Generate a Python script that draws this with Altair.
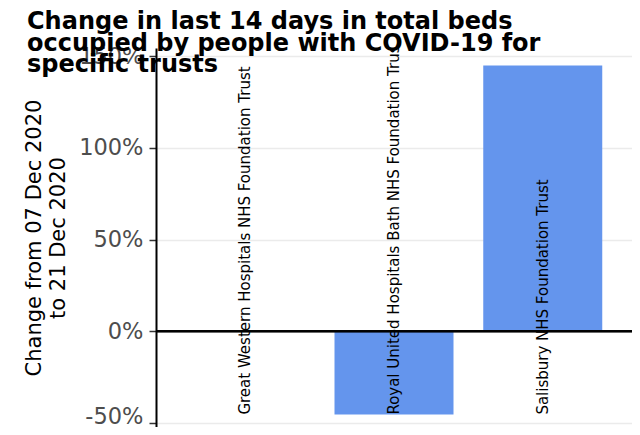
import altair as alt
import pandas as pd

trusts = [
    "Great Western Hospitals NHS Foundation Trust",
    "Royal United Hospitals Bath NHS Foundation Trust",
    "Salisbury NHS Foundation Trust",
]
change = [0.0, -45.4, 145.0]
y_ticks = [-50, 0, 50, 100, 150]
title_lines = [
    "Change in last 14 days in total beds",
    "occupied by people with COVID-19 for",
    "specific trusts",
]
y_title = ["Change from 07 Dec 2020", "to 21 Dec 2020"]

df = pd.DataFrame({"trust": trusts, "change": change})

FONT = "DejaVu Sans"

x_enc = alt.X(
    "trust:N",
    sort=trusts,
    axis=None,
    scale=alt.Scale(paddingInner=0.2, paddingOuter=0.2),
)
y_scale = alt.Scale(domain=[-52.15, 154.5], nice=False, zero=False)

base = alt.Chart(df)

bars = base.mark_bar(color="#6495ED").encode(
    x=x_enc,
    y=alt.Y(
        "change:Q",
        scale=y_scale,
        axis=alt.Axis(
            values=y_ticks,
            labelExpr="datum.value + '%'",
            title=y_title,
            grid=True,
            gridColor="#EBEBEB",
            gridWidth=1.5,
            domainColor="black",
            domainWidth=2,
            tickColor="#333333",
            tickWidth=1.5,
            tickSize=7,
            labelFontSize=22.5,
            labelColor="#4D4D4D",
            labelFont=FONT,
            labelPadding=6,
            labelOffset={"condition": {"test": "datum.value === -50", "value": -7}, "value": 0},
            titleFont=FONT,
            titleFontSize=21,
            titleFontWeight="normal",
            titleColor="black",
            titleLineHeight=24,
            titlePadding=10,
        ),
    ),
)

zero = base.mark_rule(color="black", strokeWidth=2).encode(
    y=alt.datum(0)
)

labels = (
    base.transform_joinaggregate(ymin="min(change)")
    .mark_text(
        angle=270,
        align="left",
        baseline="middle",
        fontSize=15,
        font=FONT,
        color="black",
        clip=True,
    )
    .encode(
        x=x_enc,
        y=alt.Y("ymin:Q", scale=y_scale),
        text="trust:N",
    )
)

chart = (
    alt.layer(bars, zero, labels)
    .properties(
        width=476,
        height=379,
        autosize=alt.AutoSizeParams(type="none"),
        padding={"left": 148, "top": 40, "right": 0, "bottom": 0},
        title=alt.TitleParams(
            text=title_lines,
            anchor="start",
            frame="group",
            dx=-129,
            offset=-32,
            fontSize=24,
            font=FONT,
            fontWeight="bold",
            lineHeight=21.6,
            color="black",
        ),
    )
    .configure_view(stroke=None)
)

chart.save("out.html", embed_options={"renderer": "svg", "actions": False})
